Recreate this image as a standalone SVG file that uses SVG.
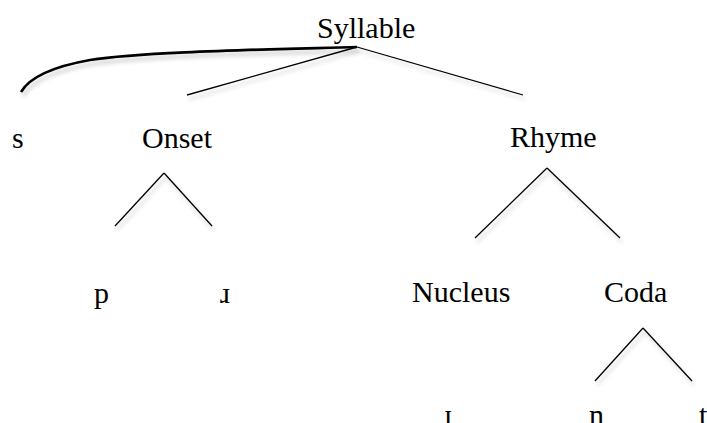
<svg xmlns="http://www.w3.org/2000/svg" width="707" height="423" viewBox="0 0 707 423">
<style>
text{font-family:"Liberation Serif","Times New Roman",serif;font-size:30px;fill:#000}
.ln{stroke:#000;stroke-width:1.3;fill:none;filter:url(#sh)}
.crv{stroke:#000;stroke-width:2.6;fill:none;filter:url(#sh)}
</style>
<defs>
<filter id="sh" x="-10%" y="-30%" width="130%" height="180%">
<feDropShadow dx="2" dy="4" stdDeviation="2" flood-color="#000" flood-opacity="0.22"/>
</filter>
</defs>
<g id="connectors">
<path class="crv" d="M357,47 C250,50 140,52 90,60 C45,68 28,80 21,92"/>
<line class="ln" x1="357" y1="47" x2="187" y2="95"/>
<line class="ln" x1="357" y1="47" x2="523" y2="95"/>
<line class="ln" x1="164" y1="173" x2="115" y2="226"/>
<line class="ln" x1="164" y1="173" x2="212" y2="226"/>
<line class="ln" x1="547" y1="168" x2="475" y2="238"/>
<line class="ln" x1="547" y1="168" x2="620" y2="238"/>
<line class="ln" x1="451" y1="323" x2="451" y2="372"/>
<line class="ln" x1="643" y1="328" x2="595" y2="381"/>
<line class="ln" x1="643" y1="328" x2="692" y2="381"/>
</g>
<g id="syllable"><text x="317" y="38">Syllable</text></g>
<g id="s"><text x="12" y="148">s</text></g>
<g id="onset"><text x="142" y="148">Onset</text></g>
<g id="rhyme"><text x="510" y="147">Rhyme</text></g>
<g id="p"><text x="94" y="303">p</text></g>
<g id="r"><text x="220" y="303">ɹ</text></g>
<g id="nucleus"><text x="412" y="302">Nucleus</text></g>
<g id="coda"><text x="604" y="302">Coda</text></g>
<g id="i"><text x="444" y="425">ɪ</text></g>
<g id="n"><text x="589" y="425">n</text></g>
<g id="t"><text x="699" y="425">t</text></g>
</svg>
